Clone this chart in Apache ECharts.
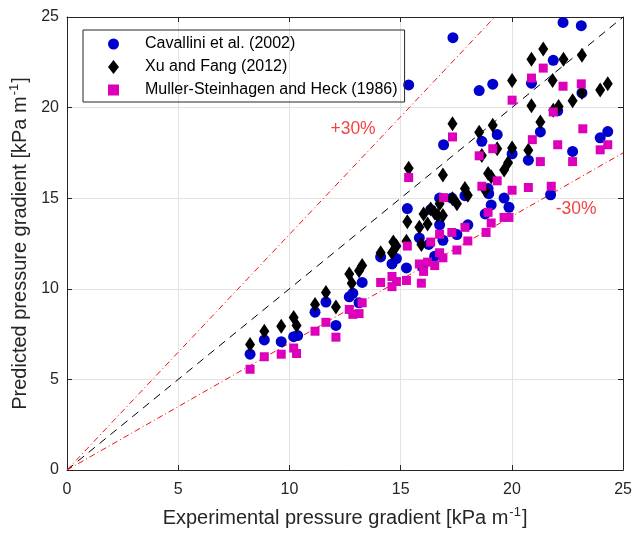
<!DOCTYPE html>
<html>
<head>
<meta charset="utf-8">
<script src="https://cdn.jsdelivr.net/npm/echarts@6/dist/echarts.min.js"></script>
<style>html,body{margin:0;padding:0;background:#fff}#c{width:635px;height:534px}</style>
</head>
<body>
<div id="c"></div>
<script>
// Cavallini et al. (2002)
const cavX = [8.23,8.87,9.63,10.19,10.37,11.15,11.64,12.09,12.69,12.85,13.13,13.27,14.10,14.61,14.81,15.26,15.30,15.36,15.84,15.99,16.26,16.35,16.53,16.75,16.75,16.90,16.93,17.30,17.35,17.53,17.89,18.02,18.53,18.65,18.80,18.93,18.96,19.07,19.14,19.34,19.65,19.87,20.01,20.74,20.88,21.28,21.74,21.86,22.06,22.30,22.73,23.12,23.15,23.97,24.31];
const cavY = [6.39,7.18,7.08,7.36,7.42,8.71,9.27,7.98,9.56,9.75,9.23,10.35,11.76,11.37,11.67,11.15,14.43,21.25,12.81,11.19,12.45,14.37,11.80,13.53,15.01,12.68,17.95,15.01,23.86,12.99,15.14,13.53,20.94,18.14,14.13,15.53,15.25,14.63,21.29,18.51,15.01,14.50,17.45,17.10,21.35,18.66,15.19,22.61,19.82,24.70,17.58,24.52,20.81,18.33,18.68];
// Xu and Fang (2012)
const xuX = [8.23,8.87,9.63,10.19,10.32,11.15,11.64,12.09,12.69,12.80,13.13,13.27,14.10,14.61,14.67,14.81,15.26,15.30,15.36,15.84,15.93,16.03,16.21,16.35,16.53,16.66,16.75,16.90,16.90,17.33,17.33,17.53,17.89,18.02,18.53,18.65,18.80,18.93,19.07,19.14,19.34,19.65,19.83,20.01,20.01,20.74,20.88,20.88,21.28,21.41,21.83,21.86,22.10,22.32,22.73,23.15,23.15,23.97,24.31];
const xuY = [6.92,7.66,7.94,8.41,7.98,9.13,9.79,9.00,10.81,10.31,11.00,11.28,11.99,11.99,12.58,12.36,12.62,13.70,16.65,13.39,12.45,14.13,13.57,14.41,14.19,14.04,14.69,14.04,16.28,19.11,14.97,14.69,15.53,15.16,18.64,17.36,15.44,16.37,16.18,19.02,17.73,16.55,16.96,17.77,21.50,17.64,20.10,22.67,19.20,23.23,21.50,19.85,20.06,22.67,20.38,22.89,20.84,20.97,21.31];
// Muller-Steinhagen and Heck (1986)
const mshX = [8.23,8.87,9.63,10.19,10.32,11.15,11.64,12.09,12.69,12.85,13.13,13.27,14.10,14.61,14.61,14.81,15.26,15.30,15.36,15.84,15.93,16.03,16.21,16.35,16.53,16.75,16.75,16.90,16.93,17.30,17.33,17.53,17.89,18.02,18.53,18.65,18.84,18.93,19.07,19.14,19.34,19.65,19.87,20.01,20.01,20.74,20.88,20.92,21.28,21.41,21.77,21.86,22.06,22.30,22.73,23.12,23.19,23.97,24.31];
const mshY = [5.56,6.25,6.39,6.73,6.43,7.66,8.15,7.33,8.86,8.59,8.63,9.23,10.35,10.68,10.12,10.40,10.46,12.36,16.14,11.37,10.31,10.96,11.47,12.58,11.28,11.99,13.01,11.71,15.03,13.11,18.38,12.14,13.39,12.64,17.34,15.66,13.11,14.22,13.63,17.73,15.96,13.94,13.94,15.44,20.41,15.59,21.63,18.23,17.02,22.18,15.66,19.76,17.95,21.18,17.02,21.31,18.83,17.67,17.95];
// reference lines
const lineX = [0, 25];
const parityY = [0, 25];
const plusX = [0, 25 / 1.3];
const plusY = [0, 25];
const minusY = [0, 17.5];
const ticks = [0, 5, 10, 15, 20, 25];
const names = ['Cavallini et al. (2002)', 'Xu and Fang (2012)', 'Muller-Steinhagen and Heck (1986)'];
const bandLabels = [{text: '+30%', x: 12.86, y: 18.82}, {text: '-30%', x: 22.89, y: 14.40}];

const zip = (a, b) => a.map((v, i) => [v, b[i]]);
const FONT = '"Liberation Sans", Arial, Helvetica, sans-serif';
const chart = echarts.init(document.getElementById('c'), null, {renderer: 'canvas'});

const axisCommon = {
  min: 0, max: 25, interval: 5,
  axisLine: {show: true, onZero: false, lineStyle: {color: '#262626', width: 1}},
  axisTick: {show: true, inside: true, length: 5, lineStyle: {color: '#262626'}},
};
const rich = {
  a: {fontSize: 20, fontFamily: FONT, color: '#262626', lineHeight: 24},
  s: {fontSize: 13, fontFamily: FONT, color: '#262626', verticalAlign: 'top', lineHeight: 24, padding: [0, 1, 9, 1]}
};

chart.setOption({
  animation: false,
  backgroundColor: '#fff',
  grid: {left: 67, right: 10, top: 17, bottom: 64},
  legend: {
    orient: 'vertical', left: 83, top: 30,
    padding: [6, 7, 4, 25],
    borderColor: '#262626', borderWidth: 1,
    itemWidth: 11, itemHeight: 14, itemGap: 7,
    textStyle: {fontSize: 16, fontFamily: FONT, color: '#000', padding: [0, 0, 0, 21]},
    data: [
      {name: names[0], icon: 'circle'},
      {name: names[1], icon: 'diamond'},
      {name: names[2], icon: 'path://M0,0L10,0L10,10L0,10Z'}
    ]
  },
  xAxis: [
    Object.assign({}, axisCommon, {
      type: 'value', position: 'bottom',
      name: '{a|Experimental pressure gradient [kPa m}{s|-1}{a|]}',
      nameLocation: 'middle', nameGap: 36,
      nameTextStyle: {rich: rich},
      axisLabel: {fontSize: 16, fontFamily: FONT, color: '#262626', margin: 12, formatter: v => ticks.includes(v) ? String(v) : ''},
      splitLine: {show: true, lineStyle: {color: '#e3e3e3', width: 1}}
    }),
    Object.assign({}, axisCommon, {
      type: 'value', position: 'top',
      axisLabel: {show: false}, splitLine: {show: false}
    })
  ],
  yAxis: [
    Object.assign({}, axisCommon, {
      type: 'value', position: 'left',
      name: '{a|Predicted pressure gradient [kPa m}{s|-1}{a|]}',
      nameLocation: 'middle', nameGap: 34,
      nameTextStyle: {rich: rich},
      axisLabel: {fontSize: 16, fontFamily: FONT, color: '#262626', margin: 8},
      splitLine: {show: true, lineStyle: {color: '#e3e3e3', width: 1}}
    }),
    Object.assign({}, axisCommon, {
      type: 'value', position: 'right',
      axisLabel: {show: false}, splitLine: {show: false}
    })
  ],
  series: [
    {type: 'line', data: zip(lineX, parityY), symbol: 'none', silent: true,
     lineStyle: {color: '#000', width: 1, type: [8, 6]}, z: 1},
    {type: 'line', data: zip(plusX, plusY), symbol: 'none', silent: true,
     lineStyle: {color: '#ee1111', width: 1, type: [6, 3, 1, 3]}, z: 1},
    {type: 'line', data: zip(lineX, minusY), symbol: 'none', silent: true,
     lineStyle: {color: '#ee1111', width: 1, type: [6, 3, 1, 3]}, z: 1},
    {type: 'scatter', silent: true, symbolSize: 0, z: 2,
     data: bandLabels.map(d => ({value: [d.x, d.y], label: {show: true, formatter: d.text, position: 'inside',
       fontSize: 17.5, fontFamily: FONT, color: '#ee1111'}}))},
    {name: names[0], type: 'scatter', data: zip(cavX, cavY), symbol: 'circle', symbolSize: 11,
     itemStyle: {color: '#0000cc', opacity: 1}, z: 3},
    {name: names[1], type: 'scatter', data: zip(xuX, xuY), symbol: 'diamond', symbolSize: [10, 15],
     itemStyle: {color: '#000', opacity: 1}, z: 4},
    {name: names[2], type: 'scatter', data: zip(mshX, mshY), symbol: 'rect', symbolSize: 9,
     itemStyle: {color: '#dd00bb', opacity: 1}, z: 5}
  ]
});
</script>
</body>
</html>
